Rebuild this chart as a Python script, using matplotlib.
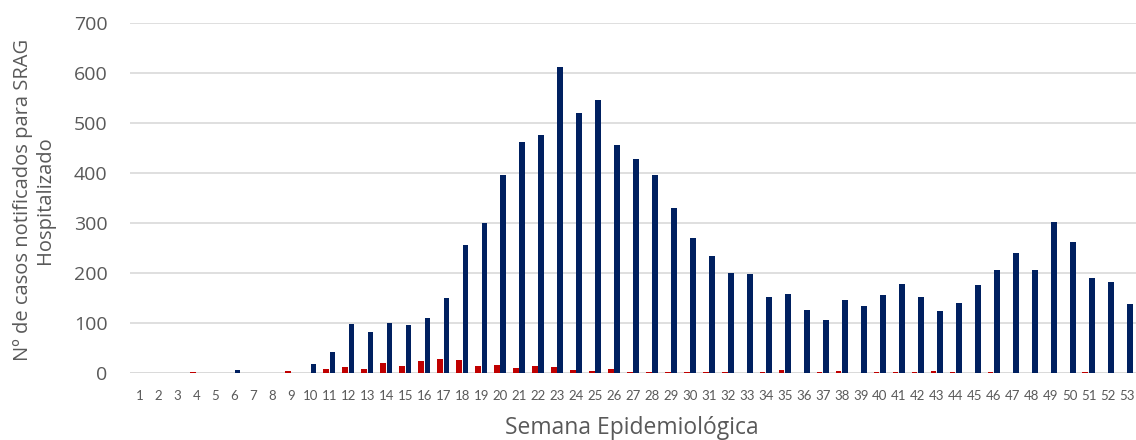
import matplotlib.pyplot as plt
import numpy as np

plt.rcParams['font.family'] = ['Open Sans', 'DejaVu Sans']

semanas = list(range(1, 54))

# casos hospitalizados (azul) e segunda serie (vermelho)
hospitalizado = [0, 0, 0, 0, 0, 7, 0, 1, 0, 19,
                 43, 99, 82, 101, 96, 110, 150, 257, 300, 397,
                 463, 477, 613, 521, 546, 457, 429, 397, 330, 271,
                 235, 200, 198, 153, 159, 127, 107, 147, 134, 156,
                 179, 153, 125, 141, 177, 206, 241, 207, 302, 262,
                 190, 183, 139]
obitos = [0, 0, 1, 3, 1, 1, 1, 1, 5, 1,
          9, 13, 9, 20, 15, 24, 29, 27, 15, 16,
          10, 15, 12, 7, 5, 9, 3, 3, 3, 3,
          3, 3, 0, 3, 7, 0, 3, 5, 0, 3,
          3, 2, 5, 2, 1, 2, 1, 1, 1, 0,
          3, 0, 0]

azul = '#002060'
vermelho = '#C00000'
cinza = '#595959'

fig = plt.figure(figsize=(11.36, 4.4), dpi=100)
ax = fig.add_axes([0.1144, 0.1516, 0.8856, 0.7954])

x = np.array(semanas)
w = 0.3
ax.bar(x - 0.17, obitos, width=w, color=vermelho, zorder=3)
ax.bar(x + 0.17, hospitalizado, width=w, color=azul, zorder=3)

ax.set_xlim(0.5, 53.5)
ax.set_ylim(0, 700)
ax.set_yticks(range(0, 701, 100))
ax.set_xticks(semanas)
ax.set_xticklabels([str(s) for s in semanas], family=['Lato', 'DejaVu Sans'])
ax.grid(axis='y', color='#D9D9D9', linewidth=1.2, zorder=0)

for s in ax.spines.values():
    s.set_visible(False)
ax.axhline(0, color='#D9D9D9', linewidth=1.2, zorder=1)

ax.tick_params(axis='both', length=0, colors=cinza)
ax.tick_params(axis='y', labelsize=14, pad=16)
ax.tick_params(axis='x', labelsize=9.5, pad=12)

fig.text(34 / 1136, 1 - 200 / 440,
         'Nº de casos notificados para SRAG\nHospitalizado',
         rotation=90, ha='center', va='center', fontsize=14.5, color=cinza,
         linespacing=1.1)
fig.text(632 / 1136, 1 - 428 / 440, 'Semana Epidemiológica',
         ha='center', va='center', fontsize=16.5, color=cinza)

fig.savefig('out.png', dpi=100)
